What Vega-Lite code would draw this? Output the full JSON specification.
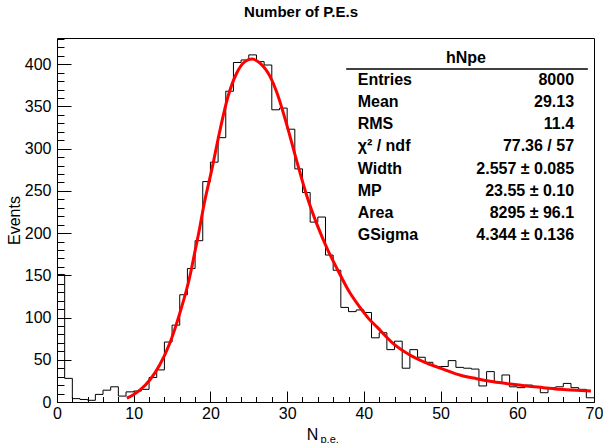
{
  "$schema": "https://vega.github.io/schema/vega-lite/v6.json",
  "width": 537,
  "height": 364,
  "autosize": {"type": "none"},
  "padding": {"left": 57, "top": 38, "right": 9, "bottom": 41},
  "background": "white",
  "title": {"text": "Number of P.E.s", "font": "Liberation Sans", "fontSize": 15, "fontWeight": "bold", "color": "black", "frame": "group", "anchor": "middle", "dx": -24.5, "offset": 6, "baseline": "alphabetic"},
  "config": {
    "view": {"stroke": "black", "strokeWidth": 1},
    "axis": {"grid": false, "domain": false, "tickColor": "black", "tickWidth": 1, "labelColor": "black", "titleColor": "black", "labelFont": "Liberation Sans", "titleFont": "Liberation Sans", "labelFontSize": 16, "titleFontSize": 16, "titleFontWeight": "normal", "labelFlush": false, "labelOverlap": false}
  },
  "datasets": {
    "hist": [
      {"x": 0, "n": 151}, {"x": 1, "n": 28}, {"x": 2, "n": 4}, {"x": 3, "n": 3}, {"x": 4, "n": 2},
      {"x": 5, "n": 9}, {"x": 6, "n": 14}, {"x": 7, "n": 18}, {"x": 8, "n": 7}, {"x": 9, "n": 12},
      {"x": 10, "n": 13}, {"x": 11, "n": 15}, {"x": 12, "n": 29}, {"x": 13, "n": 38}, {"x": 14, "n": 71},
      {"x": 15, "n": 91}, {"x": 16, "n": 127}, {"x": 17, "n": 158}, {"x": 18, "n": 191}, {"x": 19, "n": 261},
      {"x": 20, "n": 284}, {"x": 21, "n": 313}, {"x": 22, "n": 368}, {"x": 23, "n": 402}, {"x": 24, "n": 405},
      {"x": 25, "n": 411}, {"x": 26, "n": 403}, {"x": 27, "n": 399}, {"x": 28, "n": 346}, {"x": 29, "n": 348},
      {"x": 30, "n": 323}, {"x": 31, "n": 276}, {"x": 32, "n": 248}, {"x": 33, "n": 213}, {"x": 34, "n": 219},
      {"x": 35, "n": 174}, {"x": 36, "n": 156}, {"x": 37, "n": 112}, {"x": 38, "n": 107}, {"x": 39, "n": 109},
      {"x": 40, "n": 106}, {"x": 41, "n": 76}, {"x": 42, "n": 82}, {"x": 43, "n": 62}, {"x": 44, "n": 72},
      {"x": 45, "n": 40}, {"x": 46, "n": 62}, {"x": 47, "n": 53}, {"x": 48, "n": 47}, {"x": 49, "n": 42},
      {"x": 50, "n": 42}, {"x": 51, "n": 49}, {"x": 52, "n": 41}, {"x": 53, "n": 40}, {"x": 54, "n": 39},
      {"x": 55, "n": 19}, {"x": 56, "n": 36}, {"x": 57, "n": 23}, {"x": 58, "n": 32}, {"x": 59, "n": 18},
      {"x": 60, "n": 17}, {"x": 61, "n": 20}, {"x": 62, "n": 18}, {"x": 63, "n": 11}, {"x": 64, "n": 17},
      {"x": 65, "n": 18}, {"x": 66, "n": 22}, {"x": 67, "n": 17}, {"x": 68, "n": 15}, {"x": 69, "n": 5},
      {"x": 70, "n": 5}
    ],
    "fit": [
      {"x": 9.1, "y": 4.5}, {"x": 10.0, "y": 9}, {"x": 10.8, "y": 14}, {"x": 12.1, "y": 26},
      {"x": 13.4, "y": 44}, {"x": 14.7, "y": 69.5}, {"x": 16.0, "y": 105}, {"x": 17.3, "y": 148},
      {"x": 18.0, "y": 179}, {"x": 18.6, "y": 206}, {"x": 19.1, "y": 231}, {"x": 20.2, "y": 276},
      {"x": 21.25, "y": 322}, {"x": 22.3, "y": 362}, {"x": 23.4, "y": 389}, {"x": 24.5, "y": 403},
      {"x": 25.4, "y": 406}, {"x": 26.5, "y": 401}, {"x": 27.8, "y": 385}, {"x": 28.6, "y": 368},
      {"x": 29.9, "y": 330}, {"x": 31.2, "y": 287}, {"x": 32.6, "y": 243}, {"x": 33.9, "y": 210},
      {"x": 35.2, "y": 182}, {"x": 36.5, "y": 158}, {"x": 38.2, "y": 129}, {"x": 39.5, "y": 112},
      {"x": 40.6, "y": 99}, {"x": 41.7, "y": 89}, {"x": 43.8, "y": 69.5}, {"x": 46.0, "y": 55.7},
      {"x": 48.2, "y": 46}, {"x": 50.4, "y": 38.7}, {"x": 52.5, "y": 32}, {"x": 54.7, "y": 27.6},
      {"x": 56.9, "y": 24}, {"x": 59.1, "y": 21.3}, {"x": 61.2, "y": 19}, {"x": 63.4, "y": 17},
      {"x": 65.6, "y": 15}, {"x": 67.7, "y": 13.8}, {"x": 69.6, "y": 13}
    ],
    "stats": [
      {"row": 1, "label": "Entries", "value": "8000"},
      {"row": 2, "label": "Mean", "value": "29.13"},
      {"row": 3, "label": "RMS", "value": "11.4"},
      {"row": 4, "label": "χ² / ndf", "value": "77.36 / 57"},
      {"row": 5, "label": "Width", "value": "2.557 ± 0.085"},
      {"row": 6, "label": "MP", "value": "23.55 ± 0.10"},
      {"row": 7, "label": "Area", "value": "8295 ± 96.1"},
      {"row": 8, "label": "GSigma", "value": "4.344 ± 0.136"}
    ]
  },
  "resolve": {"scale": {"y": "independent"}, "axis": {"x": "independent", "y": "independent"}},
  "layer": [
    {
      "data": {"name": "hist"},
      "mark": {"type": "line", "interpolate": "step-after", "color": "black", "strokeWidth": 1, "clip": true},
      "encoding": {
        "x": {"field": "x", "type": "quantitative", "scale": {"domain": [0, 70], "nice": false, "zero": false},
          "axis": {"orient": "bottom", "values": [0, 10, 20, 30, 40, 50, 60, 70], "tickSize": -11, "labelPadding": 14, "format": "d",
            "title": "N", "titleX": 255, "titleY": 37, "titleAlign": "center", "titleBaseline": "alphabetic"}},
        "y": {"field": "n", "type": "quantitative", "scale": {"domain": [0, 431], "nice": false},
          "axis": {"orient": "left", "values": [0, 50, 100, 150, 200, 250, 300, 350, 400], "tickSize": -14, "labelPadding": 20, "format": "d",
            "title": "Events", "titleX": -38, "titleY": 182, "titleAngle": 270, "titleAlign": "center", "titleBaseline": "alphabetic"}}
      }
    },
    {
      "data": {"name": "fit"},
      "mark": {"type": "line", "interpolate": "monotone", "color": "#ff0000", "strokeWidth": 3, "clip": true},
      "encoding": {
        "x": {"field": "x", "type": "quantitative", "scale": {"domain": [0, 70], "nice": false, "zero": false},
          "axis": {"orient": "bottom", "values": [2, 4, 6, 8, 12, 14, 16, 18, 22, 24, 26, 28, 32, 34, 36, 38, 42, 44, 46, 48, 52, 54, 56, 58, 62, 64, 66, 68], "tickSize": -5.5, "labels": false,
            "title": "p.e.", "titleFontSize": 11, "titleX": 263, "titleY": 40, "titleAlign": "left", "titleBaseline": "alphabetic"}},
        "y": {"field": "y", "type": "quantitative", "scale": {"domain": [0, 431], "nice": false},
          "axis": {"orient": "left", "values": [10, 20, 30, 40, 60, 70, 80, 90, 110, 120, 130, 140, 160, 170, 180, 190, 210, 220, 230, 240, 260, 270, 280, 290, 310, 320, 330, 340, 360, 370, 380, 390, 410, 420, 430], "tickSize": -7, "labels": false, "title": null}}
      }
    },
    {
      "data": {"values": [{"row": 0.5}]},
      "mark": {"type": "rule", "color": "black", "strokeWidth": 1.5},
      "encoding": {
        "x": {"datum": 37.7, "type": "quantitative", "axis": null},
        "x2": {"datum": 69.2},
        "y": {"field": "row", "type": "quantitative", "scale": {"domain": [-0.899, 15.54], "reverse": true, "nice": false, "zero": false}, "axis": null}
      }
    },
    {
      "data": {"values": [{"row": 0, "label": "hNpe"}]},
      "mark": {"type": "text", "font": "Liberation Sans", "fontWeight": "bold", "fontSize": 16, "color": "black", "align": "center", "baseline": "middle"},
      "encoding": {
        "x": {"datum": 53.3, "type": "quantitative", "axis": null},
        "y": {"field": "row", "type": "quantitative", "scale": {"domain": [-0.899, 15.54], "reverse": true, "nice": false, "zero": false}, "axis": null},
        "text": {"field": "label"}
      }
    },
    {
      "data": {"name": "stats"},
      "mark": {"type": "text", "font": "Liberation Sans", "fontWeight": "bold", "fontSize": 16, "color": "black", "align": "left", "baseline": "middle"},
      "encoding": {
        "x": {"datum": 39.2, "type": "quantitative", "axis": null},
        "y": {"field": "row", "type": "quantitative", "scale": {"domain": [-0.899, 15.54], "reverse": true, "nice": false, "zero": false}, "axis": null},
        "text": {"field": "label"}
      }
    },
    {
      "data": {"name": "stats"},
      "mark": {"type": "text", "font": "Liberation Sans", "fontWeight": "bold", "fontSize": 16, "color": "black", "align": "right", "baseline": "middle"},
      "encoding": {
        "x": {"datum": 67.4, "type": "quantitative", "axis": null},
        "y": {"field": "row", "type": "quantitative", "scale": {"domain": [-0.899, 15.54], "reverse": true, "nice": false, "zero": false}, "axis": null},
        "text": {"field": "value"}
      }
    }
  ]
}
